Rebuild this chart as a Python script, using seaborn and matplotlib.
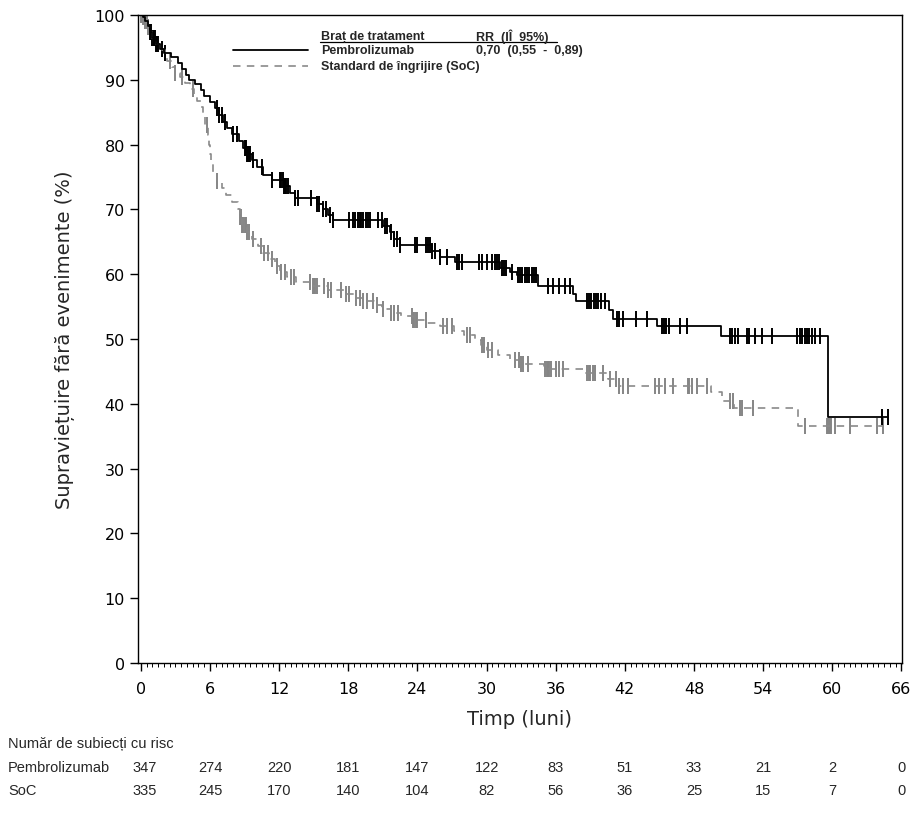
import numpy as np
import pandas as pd
import matplotlib
matplotlib.use("Agg")
import matplotlib.pyplot as plt
from matplotlib.lines import Line2D
from matplotlib.ticker import MultipleLocator
import seaborn as sns

# ---------------- data ----------------
pem_t = [0, 0.2, 0.4, 0.6, 0.8, 1.0, 1.3, 1.7, 2.0, 2.6, 3.2, 3.6, 3.9, 4.2, 4.7, 5.2, 5.5,
         6.0, 6.4, 6.8, 7.1, 7.5, 7.9, 8.5, 8.9, 9.2, 9.6, 10.1, 10.6, 11.4, 12.4, 12.9,
         13.4, 15.3, 15.8, 16.2, 16.7, 21.0, 21.6, 22.0, 22.5, 25.3, 26.0, 27.3, 31.2,
         32.0, 32.6, 34.5, 37.5, 37.8, 40.6, 41.0, 44.8, 50.3, 59.6, 64.8]
pem_s = [100, 99.7, 99.1, 98.3, 97.4, 96.5, 95.6, 94.7, 94.2, 93.5, 92.6, 91.7, 90.8, 90.0,
         89.3, 88.4, 87.5, 86.5, 85.6, 84.5, 83.5, 82.5, 81.6, 80.5, 79.5, 78.5, 77.6, 76.5,
         75.3, 74.6, 73.6, 72.6, 71.8, 70.9, 70.0, 69.2, 68.3, 67.5, 66.5, 65.5, 64.5, 63.6,
         62.7, 61.9, 61.0, 60.3, 59.8, 58.2, 57.0, 55.9, 54.5, 53.1, 52.0, 50.5, 37.9, 37.9]

soc_t = [0, 0.2, 0.4, 0.6, 0.8, 1.0, 1.3, 1.7, 2.1, 2.3, 2.7, 3.0, 3.4, 3.8, 4.3, 4.6, 4.9,
         5.2, 5.4, 5.6, 5.8, 5.9, 6.0, 6.1, 6.3, 6.6, 7.0, 7.4, 7.9, 8.4, 8.6, 8.8, 9.2, 9.6,
         10.2, 10.6, 11.1, 11.6, 12.1, 12.7, 13.5, 14.8, 16.2, 17.6, 18.7, 19.3, 20.2, 20.9,
         21.7, 22.6, 23.6, 24.8, 26.0, 27.2, 28.0, 29.0, 29.5, 30.0, 31.0, 32.0, 33.0, 35.0,
         38.5, 40.5, 41.5, 49.5, 50.4, 51.5, 57.0, 64.4]
soc_s = [100, 99.7, 99.1, 98.2, 97.3, 96.4, 95.5, 94.6, 93.8, 92.9, 92.0, 91.0, 90.4, 89.5,
         88.6, 87.6, 86.7, 85.8, 84.5, 83.0, 81.5, 80.0, 78.5, 77.0, 75.6, 74.4, 73.3, 72.2,
         71.2, 70.0, 68.8, 67.6, 66.5, 65.4, 64.3, 63.3, 62.3, 61.3, 60.3, 59.5, 58.8, 58.2,
         57.6, 57.0, 56.3, 55.8, 55.2, 54.6, 54.0, 53.5, 53.0, 52.5, 52.0, 51.3, 50.6, 49.8,
         49.0, 48.3, 47.6, 46.8, 46.2, 45.4, 44.8, 43.8, 42.7, 41.8, 40.5, 39.3, 36.5, 36.5]

pem_cens = [0.8, 0.9, 1.0, 1.1, 1.15, 1.2, 1.3, 1.4, 1.5, 1.8, 2.1, 6.6, 6.8, 7.0, 7.3, 8.0,
            8.3, 9.0, 9.1, 9.2, 9.3, 9.4, 9.5, 9.7, 10.5, 11.4, 12.1, 12.2, 12.3, 12.4, 12.5,
            12.6, 12.8, 13.4, 13.6, 14.8, 15.3, 15.5, 15.8, 16.1, 16.4, 16.7, 18.1, 18.4,
            18.6, 18.8, 19.0, 19.1, 19.3, 19.5, 19.7, 19.9, 20.6, 20.9, 21.2, 21.4, 21.7,
            22.0, 22.2, 22.5, 23.8, 24.0, 24.7, 24.9, 25.1, 25.3, 25.5, 26.0, 26.6, 27.4,
            27.6, 27.9, 29.3, 29.6, 30.0, 30.5, 30.7, 30.9, 31.1, 31.3, 31.5, 31.7, 32.2,
            32.7, 32.9, 33.1, 33.3, 33.5, 33.7, 33.9, 34.1, 34.3, 35.3, 35.8, 36.3, 36.8,
            37.2, 38.7, 38.9, 39.1, 39.3, 39.5, 39.7, 39.9, 40.3, 41.3, 41.5, 41.8, 43.0,
            43.9, 45.2, 45.4, 45.6, 45.8, 46.8, 47.4, 51.1, 51.3, 51.6, 51.8, 52.6, 52.8,
            53.3, 53.9, 54.8, 56.9, 57.2, 57.4, 57.6, 57.8, 58.0, 58.2, 58.5, 58.9, 64.3, 64.8]

soc_cens = [0.05, 0.1, 0.15, 0.2, 0.3, 0.4, 0.5, 0.6, 2.5, 3.0, 3.6, 4.5, 5.7, 6.6, 8.6, 8.7,
            8.8, 8.9, 9.0, 9.1, 9.2, 9.4, 9.7, 10.4, 10.7, 11.0, 11.4, 11.8, 12.2, 12.5, 13.0,
            13.3, 14.7, 14.9, 15.0, 15.1, 15.3, 15.9, 16.2, 16.5, 17.4, 17.8, 18.1, 18.7,
            19.0, 19.3, 19.6, 20.1, 20.5, 21.0, 21.7, 22.0, 22.3, 23.5, 23.6, 23.7, 23.9,
            24.0, 24.7, 26.2, 26.6, 27.0, 28.3, 28.6, 29.6, 29.8, 30.1, 30.5, 32.5, 32.8,
            33.0, 33.2, 33.6, 35.1, 35.2, 35.3, 35.4, 35.6, 36.0, 36.3, 36.6, 38.7, 38.9,
            39.0, 39.2, 39.4, 40.1, 40.7, 41.2, 41.5, 41.8, 42.3, 44.6, 45.0, 45.5, 46.2,
            47.5, 47.6, 47.8, 48.3, 49.1, 51.1, 51.4, 52.0, 52.2, 53.1, 57.6, 59.5, 59.6,
            59.7, 59.8, 59.9, 60.2, 61.5, 63.9, 64.4]

risk_times = [0, 6, 12, 18, 24, 30, 36, 42, 48, 54, 60, 66]
risk_pem = [347, 274, 220, 181, 147, 122, 83, 51, 33, 21, 2, 0]
risk_soc = [335, 245, 170, 140, 104, 82, 56, 36, 25, 15, 7, 0]

arm_names = ["Pembrolizumab", "Standard de îngrijire (SoC)"]
risk_labels = ["Pembrolizumab", "SoC"]


def step_value(times, surv, at):
    idx = np.searchsorted(np.asarray(times), np.asarray(at), side="right") - 1
    return np.asarray(surv)[idx]


curves = pd.concat([
    pd.DataFrame({"t": pem_t, "s": pem_s, "arm": arm_names[0]}),
    pd.DataFrame({"t": soc_t, "s": soc_s, "arm": arm_names[1]}),
])
cens = pd.concat([
    pd.DataFrame({"t": pem_cens, "s": step_value(pem_t, pem_s, pem_cens), "arm": arm_names[0]}),
    pd.DataFrame({"t": soc_cens, "s": step_value(soc_t, soc_s, soc_cens), "arm": arm_names[1]}),
])

# ---------------- figure ----------------
sns.set_theme(style="ticks")
plt.rcParams["font.family"] = ["DejaVu Sans"]

W, H = 920, 820
fig = plt.figure(figsize=(W / 100, H / 100), dpi=100)
ax = fig.add_axes([138 / W, 1 - 664 / H, (902 - 138) / W, (664 - 16) / H])

line_col = {arm_names[0]: "#000000", arm_names[1]: "#8a8a8a"}
cens_col = {arm_names[0]: "#000000", arm_names[1]: "#858585"}

# SoC first (below), then pembro
sub = curves[curves.arm == arm_names[1]]
sns.lineplot(data=sub, x="t", y="s", ax=ax, estimator=None, sort=False,
             drawstyle="steps-post", color=line_col[arm_names[1]], lw=1.2,
             dashes=False, linestyle=(0, (4.5, 3.8)))
sub = cens[cens.arm == arm_names[1]]
sns.scatterplot(data=sub, x="t", y="s", ax=ax, marker="|", s=135, linewidth=1.4,
                color=cens_col[arm_names[1]], legend=False)

sub = curves[curves.arm == arm_names[0]]
sns.lineplot(data=sub, x="t", y="s", ax=ax, estimator=None, sort=False,
             drawstyle="steps-post", color=line_col[arm_names[0]], lw=1.3)
sub = cens[cens.arm == arm_names[0]]
sns.scatterplot(data=sub, x="t", y="s", ax=ax, marker="|", s=135, linewidth=1.4,
                color=cens_col[arm_names[0]], legend=False)

ax.set_xlim(-0.25, 66.05)
ax.set_ylim(0, 100)
ax.xaxis.set_major_locator(MultipleLocator(6))
ax.xaxis.set_minor_locator(MultipleLocator(0.5))
ax.yaxis.set_major_locator(MultipleLocator(10))
ax.tick_params(axis="both", which="major", direction="out", length=6, width=1,
               labelsize=11.5, color="black", labelcolor="black")
ax.tick_params(axis="x", which="minor", direction="out", length=3, width=0.7, color="black")
ax.tick_params(axis="x", which="major", pad=7)
for sp in ax.spines.values():
    sp.set_visible(True)
    sp.set_color("black")
    sp.set_linewidth(1.0)
ax.set_xlabel("Timp (luni)", fontsize=14, labelpad=9)
ax.set_ylabel("Supraviețuire fără evenimente (%)", fontsize=14, labelpad=14)
ax.legend_ = None

# ---------------- custom legend ----------------
def fx(px):
    return px / W

def fy(py):
    return 1 - py / H

leg_font = dict(family=["Liberation Sans", "DejaVu Sans"], fontweight="bold", fontsize=9)
fig.text(fx(321), fy(37), "Braț de tratament", va="center", ha="left", **leg_font)
fig.text(fx(476), fy(37), "RR  (IÎ  95%)", va="center", ha="left", **leg_font)
fig.add_artist(Line2D([fx(320), fx(557)], [fy(43), fy(43)], color="black", lw=0.9))
fig.add_artist(Line2D([fx(233), fx(308)], [fy(51), fy(51)], color="black", lw=1.3))
fig.add_artist(Line2D([fx(233), fx(308)], [fy(67), fy(67)], color="#8a8a8a", lw=1.2,
                      linestyle=(0, (4.5, 3.8))))
fig.text(fx(321), fy(51), arm_names[0], va="center", ha="left", **leg_font)
fig.text(fx(476), fy(51), "0,70  (0,55  -  0,89)", va="center", ha="left", **leg_font)
fig.text(fx(321), fy(67), arm_names[1], va="center", ha="left", **leg_font)

# ---------------- risk table ----------------
tab_font = dict(family=["Liberation Sans", "DejaVu Sans"], fontsize=10.5)
fig.text(fx(8), fy(744), "Număr de subiecți cu risc", va="center", ha="left", **tab_font)
trans = matplotlib.transforms.blended_transform_factory(ax.transData, fig.transFigure)
for lab, vals, py in [(risk_labels[0], risk_pem, 768), (risk_labels[1], risk_soc, 791)]:
    fig.text(fx(8), fy(py), lab, va="center", ha="left", **tab_font)
    for t, v in zip(risk_times, vals):
        ax.text(t + (0.35 if t == 0 else 0), fy(py), str(v), transform=trans,
                va="center", ha="center", clip_on=False, **tab_font)

fig.savefig("out.png", dpi=100, facecolor="white")
